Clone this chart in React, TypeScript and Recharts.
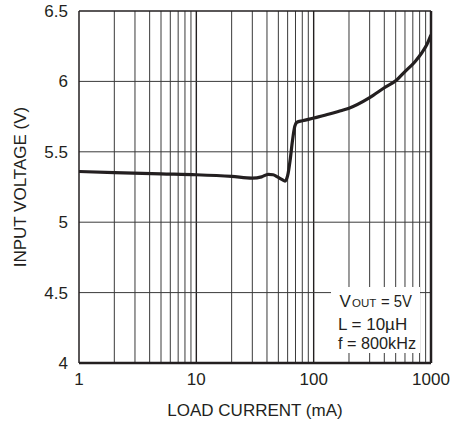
import React from 'react';
import { LineChart, Line, XAxis, YAxis, ReferenceLine, Label } from 'recharts';

const FONT = '"Liberation Sans", Arial, sans-serif';
const INK = '#231f20';
const FS = 17;

// load current (mA) vs input voltage (V)
const currents = [1, 2, 5, 10, 20, 30, 36, 41, 45, 49, 54, 57, 60, 63, 66, 69, 72, 80, 100, 136, 170, 200, 300, 400, 510, 600, 730, 830, 920, 1000];
const voltages = [5.36, 5.352, 5.343, 5.337, 5.325, 5.313, 5.322, 5.34, 5.337, 5.322, 5.302, 5.292, 5.33, 5.44, 5.58, 5.68, 5.71, 5.72, 5.74, 5.768, 5.792, 5.81, 5.885, 5.955, 6.01, 6.07, 6.14, 6.2, 6.26, 6.33];

const xTicks = [1, 10, 100, 1000];
const yTicks = [4, 4.5, 5, 5.5, 6, 6.5];
const minorX = [2, 3, 4, 5, 6, 7, 8, 9, 20, 30, 40, 50, 60, 70, 80, 90, 200, 300, 400, 500, 600, 700, 800, 900];
const majorX = [10, 100];
const gridY = [4.5, 5, 5.5, 6];

const data = currents.map((c, i) => ({ current: c, vin: voltages[i] }));

// conditions note in the lower right corner of the plot
const NoteBox: React.FC = () => (
  <svg width={451} height={427} style={{ position: 'absolute', left: 0, top: 0, pointerEvents: 'none' }}>
    <rect x={331} y={287} width={89} height={66} fill="#fff" />
    <g fontFamily={FONT} fill={INK} fontSize={FS}>
      <text x={339.5} y={306.5}>V</text>
      <text x={352} y={306.5} fontSize={11.5}>OUT</text>
      <text x={381} y={306.5} textLength={31} lengthAdjust="spacingAndGlyphs">= 5V</text>
      <text x={338} y={330}>L = 10µH</text>
      <text x={338} y={349} textLength={78} lengthAdjust="spacingAndGlyphs">f = 800kHz</text>
    </g>
  </svg>
);

const App: React.FC = () => {
  return (
    <div style={{ position: 'absolute', left: 0, top: 0, width: 451, height: 427, background: '#fff' }}>
      <LineChart width={451} height={427} data={data} margin={{ top: 11, right: 20, left: 0, bottom: 0 }}>
        <XAxis
          dataKey="current"
          type="number"
          scale="log"
          domain={[1, 1000]}
          ticks={xTicks}
          allowDataOverflow
          height={64}
          tickLine={false}
          tickMargin={4}
          axisLine={{ stroke: INK, strokeWidth: 2.5 }}
          tick={{ fill: INK, fontSize: FS, fontFamily: FONT }}
        >
          <Label value="LOAD CURRENT (mA)" position="insideBottom" offset={11} style={{ fill: INK, fontSize: FS, fontFamily: FONT }} />
        </XAxis>
        <YAxis
          type="number"
          domain={[4, 6.5]}
          ticks={yTicks}
          width={79}
          tickLine={false}
          tickMargin={5}
          axisLine={{ stroke: INK, strokeWidth: 1.5 }}
          tick={{ fill: INK, fontSize: FS, fontFamily: FONT }}
        >
          <Label
            value="INPUT VOLTAGE (V)"
            angle={-90}
            position="insideLeft"
            offset={20}
            style={{ fill: INK, fontSize: FS, fontFamily: FONT, textAnchor: 'middle' }}
          />
        </YAxis>
        {minorX.map((v) => (
          <ReferenceLine key={`mx-${v}`} x={v} stroke="#3a3a3a" strokeWidth={1} />
        ))}
        {majorX.map((v) => (
          <ReferenceLine key={`Mx-${v}`} x={v} stroke={INK} strokeWidth={1.4} />
        ))}
        {gridY.map((v) => (
          <ReferenceLine key={`gy-${v}`} y={v} stroke="#3a3a3a" strokeWidth={1} />
        ))}
        <ReferenceLine y={6.5} stroke={INK} strokeWidth={1.5} />
        <ReferenceLine x={1000} stroke={INK} strokeWidth={2.5} />
        <Line
          type="monotone"
          dataKey="vin"
          stroke={INK}
          strokeWidth={3.2}
          dot={false}
          isAnimationActive={false}
        />
      </LineChart>
      <NoteBox />
    </div>
  );
};

export default App;
